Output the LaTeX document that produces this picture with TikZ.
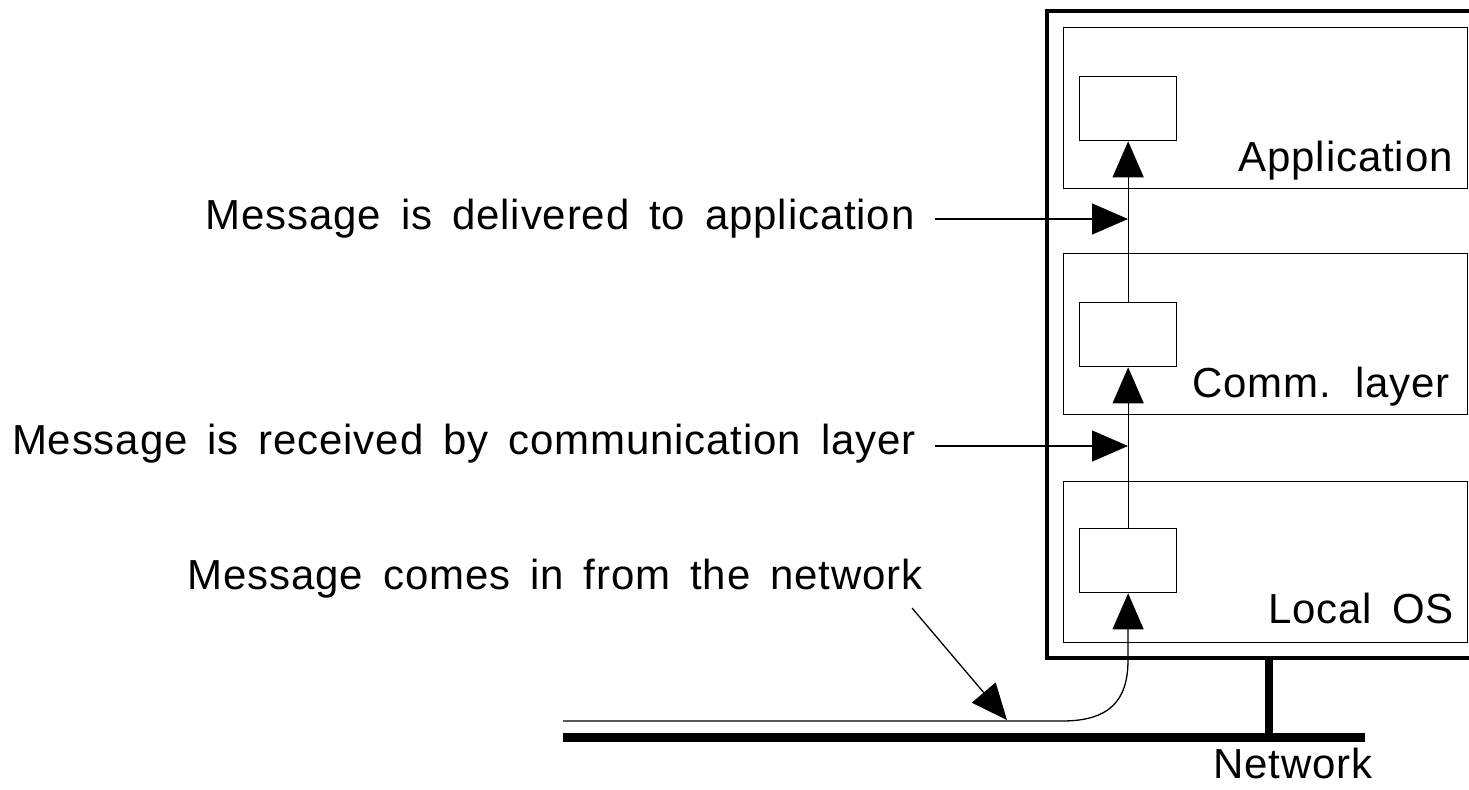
\documentclass[tikz,border=0pt]{standalone}
\usepackage{fontspec}
\setmainfont{Liberation Sans}[LetterSpace=2,WordSpace=1.6]
\usetikzlibrary{arrows.meta}
\begin{document}
\begin{tikzpicture}[x=0.5pt,y=-0.5pt,
  layerbox/.style={draw,line width=0.65pt,minimum width=202pt,minimum height=80.5pt,inner sep=0pt,anchor=north west},
  smallbox/.style={draw,line width=0.65pt,minimum width=48.5pt,minimum height=32pt,inner sep=0pt,anchor=north west},
  lbl/.style={inner sep=0pt,font=\fontsize{21pt}{24pt}\selectfont},
  arr/.style={line width=0.65pt,-{Triangle[length=18pt,width=15.5pt]}}]
\useasboundingbox (0,0) rectangle (1469,789);
% outer host box (open to the right)
\draw[line width=2pt] (1480,11) -- (1047,11) -- (1047,658) -- (1480,658);
% layer boxes
\node[layerbox] (appL) at (1063,27) {};
\node[layerbox] (commL) at (1063,253) {};
\node[layerbox] (osL) at (1063,481) {};
% small boxes
\node[smallbox] (app) at (1079,76) {};
\node[smallbox] (comm) at (1079,302) {};
\node[smallbox] (os) at (1079,528) {};
% layer labels
\node[lbl,anchor=base east] (tApp) at (1453,171) {Application};
\node[lbl,anchor=base east] (tComm) at (1450,397) {Comm. layer};
\node[lbl,anchor=base east] (tOS) at (1454,623) {Local OS};
% network
\coordinate (nl) at (563,737.5);
\coordinate (nr) at (1365,737.5);
\draw[line width=4.5pt] (nl) -- (nr);
\coordinate (hostfoot) at (1269,658);
\coordinate (netjoin) at (1269,737.5);
\draw[line width=4pt] (hostfoot) -- (netjoin);
\node[lbl,anchor=base west] (tNet) at (1213,778) {Network};
% message path
\coordinate (wire) at (563,721);
\coordinate (bend) at (1062,721);
\draw[arr] (wire) -- (bend) .. controls (1108,721) and (1128,702) .. (1128,660) -- (os.south);
\draw[arr] (os.north) -- (comm.south);
\draw[arr] (comm.north) -- (app.south);
% explanatory labels
\node[lbl,anchor=base east] (t1) at (915,229) {Message is delivered to application};
\node[lbl,anchor=base east] (t2) at (916,454) {Message is received by communication layer};
\node[lbl,anchor=base east] (t3) at (923,589) {Message comes in from the network};
\coordinate (a1s) at (935,219);
\coordinate (a1e) at (1128,219);
\coordinate (a2s) at (935,446);
\coordinate (a2e) at (1128,446);
\draw[arr] (a1s) -- (a1e);
\draw[arr] (a2s) -- (a2e);
\coordinate (a3s) at (912,608);
\coordinate (a3e) at (1007,720);
\draw[arr] (a3s) -- (a3e);
\end{tikzpicture}
\end{document}
